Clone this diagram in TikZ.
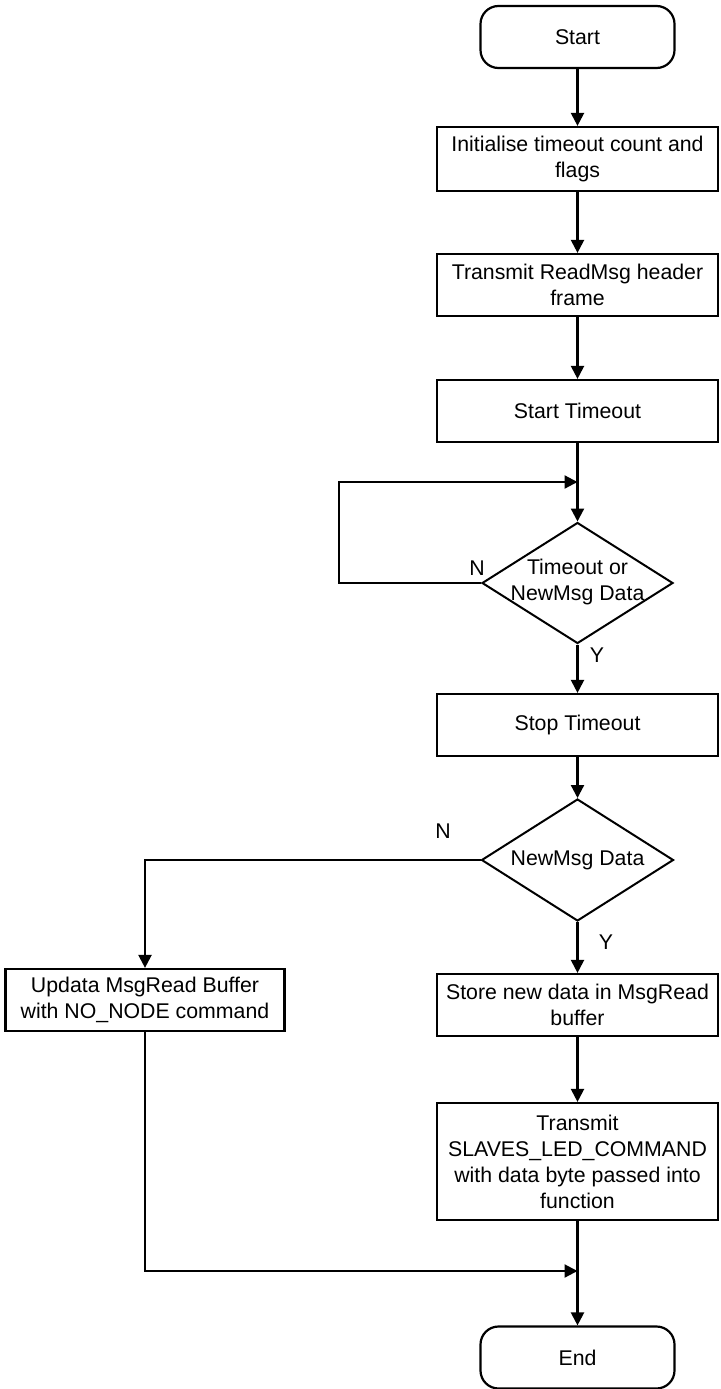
\documentclass[tikz,border=0pt]{standalone}
\usepackage{fontspec}
\setmainfont{Liberation Sans}
\usetikzlibrary{shapes.geometric,arrows.meta}
\begin{document}
\begin{tikzpicture}[x=1pt,y=-1pt,
  every node/.style={font=\fontsize{21.3}{26}\selectfont},
  box/.style={draw,line width=2.2pt,minimum width=281pt,minimum height=62pt,inner sep=0pt,align=center},
  term/.style={draw,line width=2.2pt,rounded corners=18pt,minimum width=194pt,minimum height=62pt,inner sep=0pt},
  diam/.style={draw,diamond,line width=2pt,minimum width=191pt,minimum height=121pt,inner sep=0pt,shape aspect=1.58},
  conn/.style={line width=2.2pt,-{Triangle[width=13pt,length=13pt]}},
  lbl/.style={inner sep=0pt,align=center}
]
\useasboundingbox (0,0) rectangle (720,1389);

\node[term] (start) at (577.5,37) {Start};
\node[box,minimum height=64pt] (b1) at (577.5,159) {Initialise timeout count and\\flags};
\node[box] (b2) at (577.5,285) {Transmit ReadMsg header\\frame};
\node[box] (b3) at (577.5,411) {Start Timeout};
\node[diam] (d1) at (577.5,583) {};
\node[lbl] (d1t) at (577.5,581.5) {Timeout or\\NewMsg Data};
\node[box] (b4) at (577.5,725) {Stop Timeout};
\node[diam,minimum height=122pt,minimum width=192pt] (d2) at (577.5,860) {};
\node[lbl] (d2t) at (577.5,860) {NewMsg Data};
\node[box,minimum width=279pt] (lb) at (145,1000) {Updata MsgRead Buffer\\with NO\_NODE command};
\node[box] (b5) at (577.5,1005) {Store new data in MsgRead\\buffer};
\node[box,minimum height=117pt] (b6) at (577.5,1161.5) {Transmit\\SLAVES\_LED\_COMMAND\\with data byte passed into\\function};
\node[term] (end) at (577.5,1357.5) {End};

\node[lbl] (n1) at (477,568) {N};
\node[lbl] (y1) at (597,655) {Y};
\node[lbl] (n2) at (443,831) {N};
\node[lbl] (y2) at (606,942) {Y};

\coordinate (lp) at (339,482);
\coordinate (lj) at (577.5,482);
\coordinate (mj) at (577.5,1271);

\draw[conn] (start) -- (b1);
\draw[conn] (b1) -- (b2);
\draw[conn] (b2) -- (b3);
\draw[conn] (b3) -- (d1.north);
\draw[conn] (d1.west) -| (lp) -- (lj);
\draw[conn] (d1.south) -- (b4);
\draw[conn] (b4) -- (d2.north);
\draw[conn] (d2.west) -| (lb.north);
\draw[conn] (d2.south) -- (b5);
\draw[conn] (b5) -- (b6);
\draw[conn] (b6) -- (end);
\draw[conn] (lb.south) |- (mj);
\end{tikzpicture}
\end{document}
